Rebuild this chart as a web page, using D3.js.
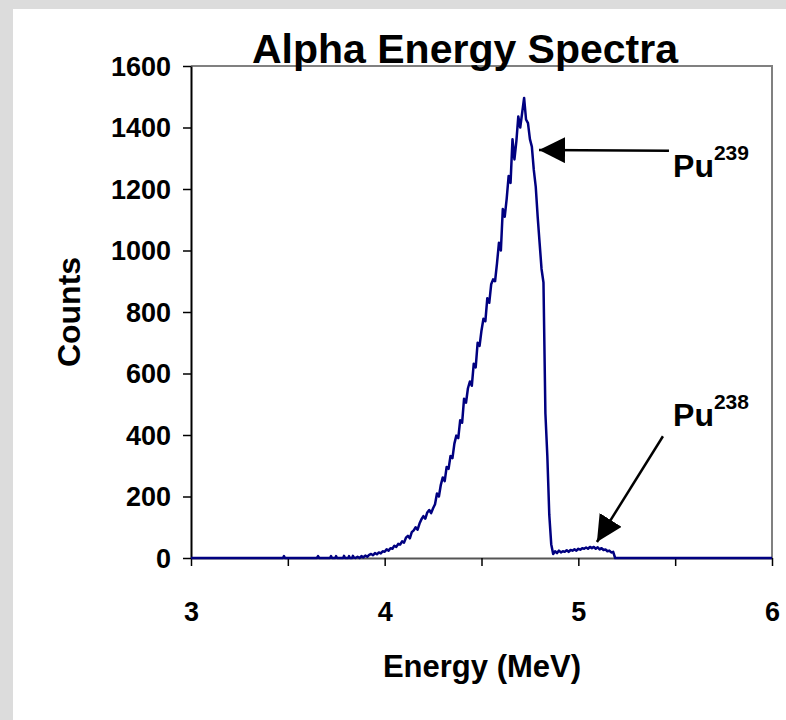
<!DOCTYPE html>
<html>
<head>
<meta charset="utf-8">
<script src="https://cdn.jsdelivr.net/npm/d3@7"></script>
<style>
body{margin:0;background:#dcdcdc;}
text{font-family:"Liberation Sans",Arial,sans-serif;font-weight:bold;fill:#000;}
</style>
</head>
<body>
<div id="chart"></div>
<script>
// channel energies (MeV) and counts
const energy=[3.00,3.475,3.48,3.485,3.65,3.656,3.662,3.718,3.723,3.728,3.745,3.749,3.754,3.786,3.79,3.795,3.812,3.816,3.82,3.832,3.836,3.84,
3.85,3.86,3.87,3.88,3.89,3.90,3.91,3.92,3.93,3.94,3.95,3.96,3.97,3.98,3.99,
4.00,4.01,4.02,4.03,4.04,4.05,4.06,4.07,4.08,4.09,4.10,4.11,4.12,4.13,4.14,4.15,4.16,4.17,4.18,4.19,
4.20,4.21,4.22,4.23,4.24,4.25,4.26,4.27,4.28,4.29,4.30,4.31,4.32,4.33,4.34,4.35,4.36,4.37,4.38,4.39,
4.40,4.41,4.42,4.43,4.44,4.45,4.46,4.47,4.48,4.49,4.50,4.51,4.52,4.53,4.54,4.55,4.56,4.57,4.58,4.59,
4.60,4.61,4.62,4.63,4.64,4.65,4.66,4.67,4.68,4.69,4.70,4.71,4.72,4.73,4.74,4.75,4.76,4.77,4.78,4.79,
4.80,4.81,4.82,4.83,4.84,4.85,4.86,4.87,4.88,4.89,4.90,4.91,4.92,4.93,4.94,4.95,4.96,4.97,4.98,4.99,
5.00,5.01,5.02,5.03,5.04,5.05,5.06,5.07,5.08,5.09,5.10,5.11,5.12,5.13,5.14,5.15,5.16,5.17,5.18,5.19,6.00];
const counts=[0,0,6,0,0,6,0,0,6,0,0,6,0,0,7,0,0,6,0,0,7,2,
0,4,0,6,2,8,4,10,13,9,16,12,18,15,22,
20,28,24,32,30,40,36,46,44,54,50,66,72,64,84,90,100,92,112,126,
136,128,148,156,146,162,175,210,200,238,262,250,296,290,332,325,372,398,390,448,
440,518,505,552,574,560,632,620,700,690,740,778,770,845,830,890,906,900,958,1025,
1000,1135,1110,1168,1242,1220,1362,1296,1355,1436,1400,1448,1496,1426,1414,1362,1338,1262,1208,1110,
1025,940,896,470,330,140,45,13,22,16,24,18,22,20,25,20,26,24,28,24,
30,27,32,30,34,30,36,32,36,30,35,28,32,26,28,22,24,18,20,0,0];

const yTicks=[0,200,400,600,800,1000,1200,1400,1600];
const xTicks=[3,3.5,4,4.5,5,5.5,6];
const xLabels=[3,4,5,6];

// peak labels: arrow tip, arrow tail, label anchor (MeV, counts)
const peakNames=["Pu","Pu"];
const peakMass=["239","238"];
const arrowTip=[[4.797,1327],[5.096,52]];
const arrowTail=[[5.468,1324],[5.437,396]];
const labelAt=[[5.489,1240],[5.489,428]];

const width=786,height=720;
const svg=d3.select("#chart").append("svg").attr("width",width).attr("height",height);

svg.append("rect").attr("x",13).attr("y",9).attr("width",width-13).attr("height",height-9).attr("fill","#fff");

const x=d3.scaleLinear().domain([3,6]).range([191,772]);
const y=d3.scaleLinear().domain([0,1600]).range([558,66]);

// plot frame (top and right)
svg.append("path")
  .attr("d","M"+x(3)+","+y(1600)+"H"+x(6)+"V"+y(0))
  .attr("fill","none").attr("stroke","#808080").attr("stroke-width",2);

const yAxis=svg.append("g").attr("transform","translate("+x(3)+",0)")
  .call(d3.axisLeft(y).tickValues(yTicks).tickSize(8).tickSizeOuter(0).tickPadding(12).tickFormat(d3.format("d")));
yAxis.select(".domain").attr("stroke","#000").attr("stroke-width",2);
yAxis.selectAll(".tick line").attr("stroke-width",1.5);
yAxis.selectAll("text").style("font-size","27px").attr("dy","0.35em");

const xAxis=svg.append("g").attr("transform","translate(0,"+y(0)+")")
  .call(d3.axisBottom(x).tickValues(xTicks).tickSize(8).tickSizeOuter(0).tickPadding(36)
    .tickFormat(d=>xLabels.includes(d)?d:""));
xAxis.select(".domain").attr("stroke","#555").attr("stroke-width",2);
xAxis.selectAll(".tick line").attr("stroke-width",1.5);
xAxis.selectAll("text").style("font-size","27px");

// spectrum
svg.append("path")
  .datum(energy.map((e,i)=>[e,counts[i]]))
  .attr("fill","none")
  .attr("stroke","#000080")
  .attr("stroke-width",2.5)
  .attr("stroke-linejoin","round")
  .attr("d",d3.line().x(d=>x(d[0])).y(d=>y(d[1])));

// arrows
svg.append("defs").append("marker")
  .attr("id","head").attr("markerUnits","userSpaceOnUse")
  .attr("markerWidth",28).attr("markerHeight",28)
  .attr("refX",26).attr("refY",13).attr("orient","auto")
  .append("path").attr("d","M0,0L26,13L0,26Z").attr("fill","#000");

peakNames.forEach((n,i)=>{
  svg.append("line")
    .attr("x1",x(arrowTail[i][0])).attr("y1",y(arrowTail[i][1]))
    .attr("x2",x(arrowTip[i][0])).attr("y2",y(arrowTip[i][1]))
    .attr("stroke","#000").attr("stroke-width",2.5)
    .attr("marker-end","url(#head)");
  const t=svg.append("text")
    .attr("x",x(labelAt[i][0])).attr("y",y(labelAt[i][1]))
    .style("font-size","32px");
  t.append("tspan").text(n);
  t.append("tspan").attr("dy","-17").style("font-size","21px").text(peakMass[i]);
});

svg.append("text").attr("x",465).attr("y",63).attr("text-anchor","middle")
  .style("font-size","41px").text("Alpha Energy Spectra");

svg.append("text").attr("x",482).attr("y",677).attr("text-anchor","middle")
  .style("font-size","31px").text("Energy (MeV)");

svg.append("text").attr("transform","translate(80,312) rotate(-90)").attr("text-anchor","middle")
  .style("font-size","32px").text("Counts");
</script>
</body>
</html>
